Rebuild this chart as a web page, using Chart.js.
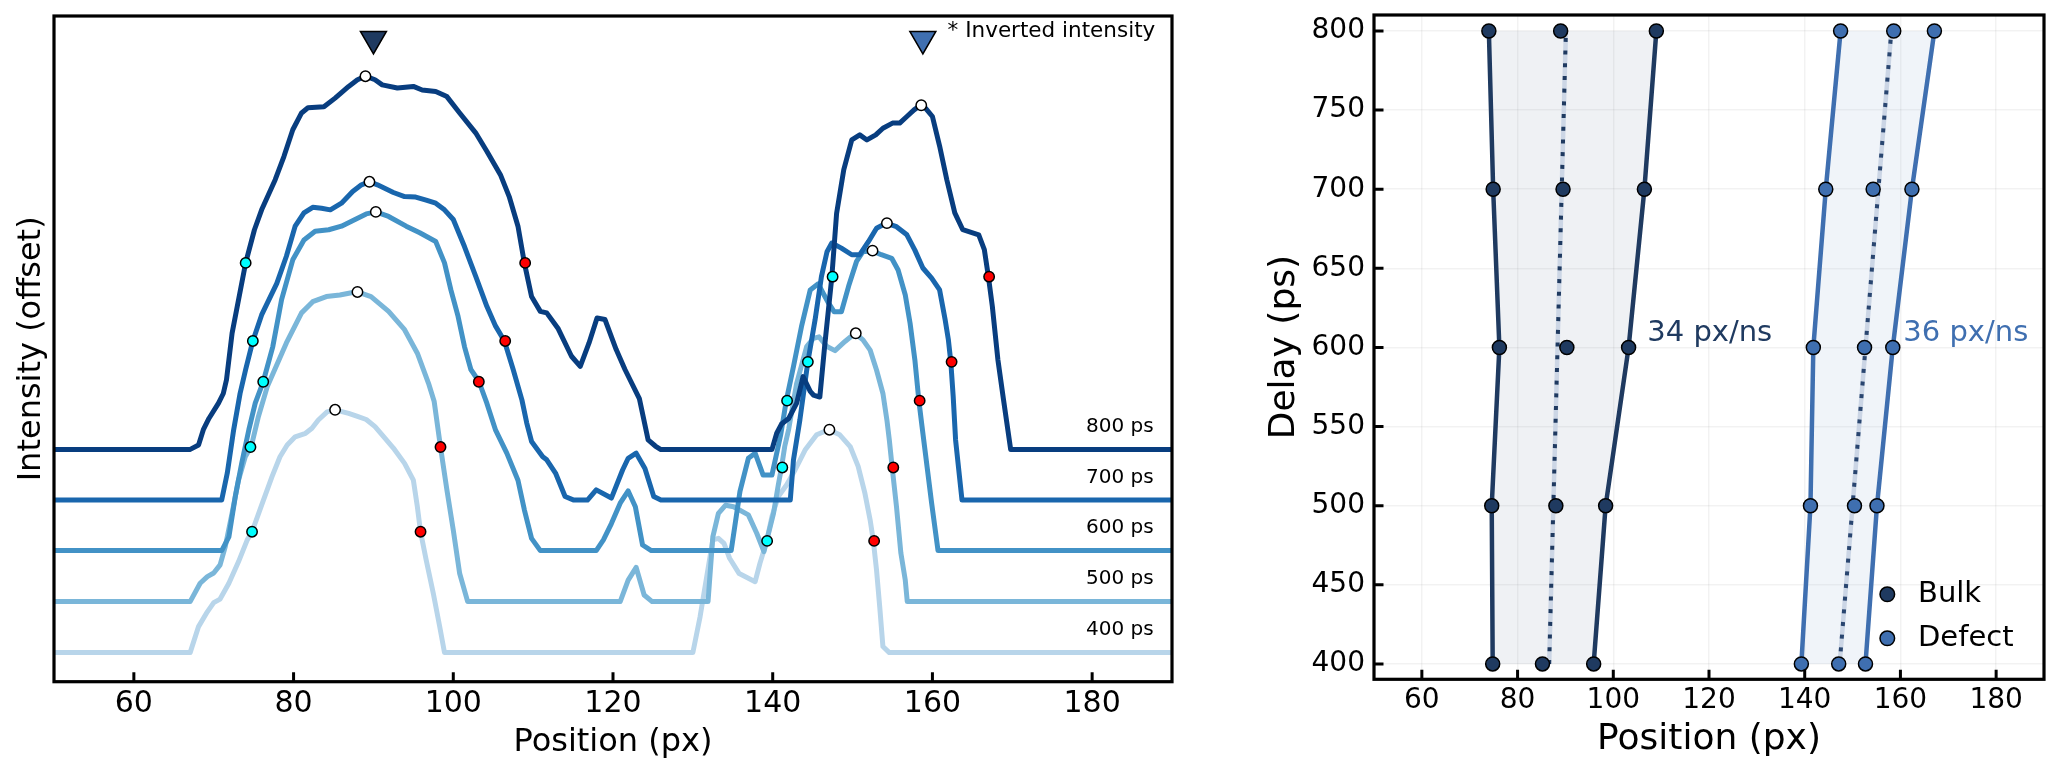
<!DOCTYPE html>
<html>
<head>
<meta charset="utf-8">
<script src="https://cdn.jsdelivr.net/npm/chart.js@4"></script>
<style>
  html, body { margin: 0; padding: 0; background: #fff; }
  #wrap { position: relative; width: 2058px; height: 774px; }
  canvas { position: absolute; top: 0; }
  #profiles { left: 0; }
  #fronts { left: 1250px; }
</style>
</head>
<body>
<div id="wrap">
  <canvas id="profiles" width="1180" height="774"></canvas>
  <canvas id="fronts" width="808" height="774"></canvas>
</div>
<script>
//////////////////////////////////////////////////
// Data

const delays = [400, 500, 600, 700, 800]
const delayLabels = ['400 ps', '500 ps', '600 ps', '700 ps', '800 ps']
const posTicks = [60, 80, 100, 120, 140, 160, 180]
const delayTicks = [400, 450, 500, 550, 600, 650, 700, 750, 800]

// line profiles, already offset (one step per delay)
const pos400 = [50, 67.05, 68.1, 69.2, 70.0, 70.8, 71.9, 73.1, 74.2, 74.8, 76.0, 77.3, 78.3, 79.2, 80.2, 81.5, 82.3, 83.1, 84.2, 85.2, 86.9, 88.0, 89.1, 90.2, 91.3, 92.5, 93.9, 95.0, 95.5, 95.9, 96.6, 97.5, 98.3, 98.9, 130.0, 130.9, 131.8, 132.5, 133.2, 133.9, 134.6, 135.8, 137.8, 138.4, 139.25, 139.9, 140.7, 141.75, 142.8, 144.05, 145.5, 147.0, 148.4, 149.7, 150.7, 151.55, 152.2, 152.6, 153.0, 153.4, 153.8, 154.6, 190]
const int400 = [0.57, 0.57, 1.08, 1.37, 1.55, 1.62, 1.93, 2.35, 2.78, 2.94, 3.46, 4.02, 4.41, 4.64, 4.8, 4.87, 4.97, 5.13, 5.29, 5.33, 5.26, 5.2, 5.14, 5.0, 4.8, 4.58, 4.28, 3.95, 3.43, 2.94, 2.39, 1.73, 1.08, 0.57, 0.57, 1.27, 2.12, 2.78, 2.81, 2.71, 2.42, 2.12, 1.96, 2.32, 2.76, 3.24, 3.63, 3.86, 4.15, 4.54, 4.84, 4.94, 4.84, 4.61, 4.22, 3.69, 3.17, 2.76, 2.19, 1.47, 0.69, 0.57, 0.57]

const pos500 = [50, 67.05, 68.3, 69.2, 70.0, 70.8, 71.45, 72.3, 73.1, 73.95, 74.7, 75.6, 76.7, 79.1, 81.0, 82.4, 84.1, 85.8, 87.4, 88.0, 89.7, 91.9, 93.9, 95.5, 96.9, 97.6, 98.4, 99.2, 100.0, 100.8, 101.8, 120.9, 121.9, 122.9, 123.9, 124.9, 131.9, 132.5, 133.2, 134.1, 135.1, 136.95, 138.0, 138.9, 140.1, 140.7, 141.1, 141.5, 142.0, 143.0, 144.25, 145.1, 145.8, 146.8, 147.8, 149.05, 150.3, 151.3, 152.2, 153.0, 153.8, 154.3, 154.6, 154.96, 155.5, 156.05, 156.6, 156.85, 190]
const int500 = [1.57, 1.57, 1.93, 2.06, 2.13, 2.29, 2.65, 3.3, 3.95, 4.41, 4.61, 5.2, 5.78, 6.64, 7.23, 7.45, 7.55, 7.58, 7.63, 7.64, 7.55, 7.26, 6.9, 6.44, 5.85, 5.5, 4.6, 3.76, 2.97, 2.12, 1.57, 1.57, 1.99, 2.24, 1.7, 1.57, 1.57, 2.84, 3.3, 3.46, 3.43, 3.27, 2.91, 2.55, 3.3, 3.86, 4.2, 4.61, 4.95, 5.85, 6.57, 6.73, 6.76, 6.57, 6.49, 6.67, 6.83, 6.7, 6.5, 6.11, 5.65, 5.13, 4.74, 4.2, 3.43, 2.52, 1.99, 1.57, 1.57]

const pos600 = [50, 71.0, 71.9, 72.7, 73.5, 74.4, 75.2, 76.2, 77.4, 78.5, 79.9, 81.3, 82.7, 84.4, 86.0, 87.7, 89.1, 90.3, 91.9, 94.1, 95.8, 97.8, 98.9, 99.7, 100.6, 101.4, 102.2, 103.2, 104.2, 105.3, 106.7, 108.1, 108.9, 109.8, 110.9, 117.9, 118.8, 119.8, 120.9, 121.9, 122.8, 123.7, 124.8, 134.8, 135.9, 136.95, 137.8, 138.8, 139.9, 140.5, 141.0, 141.7, 142.6, 143.6, 144.7, 145.7, 146.3, 147.0, 147.7, 148.6, 149.5, 150.5, 151.3, 152.4, 153.6, 154.9, 155.7, 156.6, 157.2, 157.8, 158.3, 158.7, 159.9, 160.7, 190]
const int600 = [2.57, 2.57, 2.84, 3.63, 4.28, 4.94, 5.46, 5.88, 6.57, 7.49, 8.27, 8.66, 8.83, 8.86, 8.93, 9.06, 9.17, 9.21, 9.12, 8.93, 8.8, 8.63, 8.21, 7.68, 7.16, 6.57, 6.12, 5.89, 5.46, 4.93, 4.48, 3.95, 3.37, 2.81, 2.57, 2.57, 2.78, 3.1, 3.5, 3.74, 3.43, 2.68, 2.57, 2.57, 3.73, 4.38, 4.48, 4.05, 4.05, 4.48, 4.84, 5.51, 6.18, 6.96, 7.68, 7.8, 7.62, 7.42, 7.25, 7.25, 7.75, 8.24, 8.43, 8.45, 8.37, 8.3, 8.07, 7.58, 7.03, 6.31, 5.51, 5.0, 3.5, 2.57, 2.57]

const pos700 = [50, 71.0, 71.7, 72.5, 73.3, 74.0, 74.9, 76.0, 77.9, 79.1, 80.2, 81.3, 82.4, 83.5, 84.6, 86.0, 87.4, 88.5, 89.5, 90.5, 92.5, 93.9, 95.3, 96.6, 97.8, 98.9, 100.0, 101.4, 102.8, 104.2, 105.3, 106.4, 107.5, 108.6, 109.2, 109.8, 111.2, 111.7, 112.8, 114.0, 115.1, 116.8, 117.9, 119.8, 121.2, 121.9, 122.9, 124.0, 125.1, 126.0, 142.2, 142.6, 143.4, 144.4, 145.3, 146.1, 146.8, 147.4, 148.6, 149.9, 150.9, 152.0, 153.0, 154.2, 155.5, 156.8, 157.8, 158.8, 159.9, 160.9, 161.6, 162.0, 162.3, 162.6, 162.9, 163.7, 190]
const int700 = [3.56, 3.56, 4.09, 4.94, 5.65, 6.12, 6.68, 7.19, 7.81, 8.34, 8.93, 9.19, 9.3, 9.28, 9.25, 9.38, 9.61, 9.74, 9.8, 9.74, 9.59, 9.51, 9.5, 9.44, 9.38, 9.25, 9.06, 8.53, 7.95, 7.36, 6.97, 6.68, 6.12, 5.52, 5.07, 4.71, 4.41, 4.35, 4.09, 3.63, 3.56, 3.56, 3.76, 3.6, 4.15, 4.38, 4.48, 4.18, 3.63, 3.56, 3.56, 4.35, 5.13, 6.27, 7.09, 7.94, 8.43, 8.6, 8.5, 8.37, 8.37, 8.63, 8.89, 8.99, 8.92, 8.76, 8.46, 8.11, 7.91, 7.68, 7.09, 6.7, 6.27, 5.59, 4.74, 3.56, 3.56]

const pos800 = [50, 67.0, 68.1, 68.7, 69.4, 70.6, 71.2, 71.6, 72.3, 74.0, 75.1, 76.0, 77.7, 78.8, 79.9, 81.0, 81.8, 83.8, 85.2, 86.9, 88.0, 89.0, 90.2, 91.1, 93.0, 95.0, 96.1, 97.8, 99.2, 100.8, 102.8, 104.2, 105.9, 107.0, 108.1, 108.9, 109.8, 110.9, 111.7, 113.1, 114.8, 115.9, 117.0, 118.0, 119.0, 120.4, 121.5, 123.3, 124.4, 125.3, 126.0, 139.9, 140.5, 141.1, 142.0, 143.0, 143.8, 144.7, 145.1, 145.9, 146.5, 147.4, 148.0, 148.9, 149.9, 150.9, 151.8, 152.9, 153.8, 155.0, 155.9, 156.8, 157.7, 158.5, 159.1, 160.0, 160.9, 161.8, 162.8, 163.8, 165.8, 166.5, 167.0, 167.5, 168.2, 168.9, 169.8, 190]
const int800 = [4.55, 4.55, 4.64, 4.94, 5.16, 5.46, 5.65, 5.92, 6.83, 8.21, 8.86, 9.25, 9.84, 10.3, 10.82, 11.15, 11.25, 11.27, 11.44, 11.67, 11.8, 11.87, 11.8, 11.7, 11.64, 11.67, 11.6, 11.57, 11.47, 11.15, 10.76, 10.4, 9.94, 9.51, 8.93, 8.21, 7.55, 7.26, 7.23, 6.93, 6.38, 6.18, 6.64, 7.13, 7.1, 6.51, 6.12, 5.55, 4.74, 4.62, 4.55, 4.55, 4.87, 5.05, 5.16, 5.46, 5.98, 5.69, 5.62, 5.58, 6.57, 7.93, 9.18, 10.04, 10.62, 10.72, 10.62, 10.72, 10.85, 10.95, 10.95, 11.08, 11.21, 11.3, 11.25, 11.08, 10.5, 9.84, 9.19, 8.86, 8.76, 8.47, 7.95, 7.36, 6.31, 5.53, 4.55, 4.55]

// front positions (px) per delay
const bulkLeft = [74.8, 74.6, 76.2, 74.9, 74.0]
const bulkPeak = [85.2, 88.0, 90.3, 89.5, 89.0]
const bulkRight = [95.9, 98.4, 103.2, 106.5, 109.0]
const defectLeft = [139.3, 141.2, 141.8, 144.4, 147.5]
const defectPeak = [147.1, 150.4, 152.5, 154.3, 158.6]
const defectRight = [152.7, 155.1, 158.4, 162.4, 167.1]

// profile intensity at those markers
const bulkHalfInt = [2.94, 4.6, 5.88, 6.68, 8.21]
const bulkPeakInt = [5.33, 7.64, 9.21, 9.8, 11.87]
const defectHalfInt = [2.76, 4.2, 5.51, 6.27, 7.94]
const defectPeakInt = [4.94, 6.83, 8.45, 8.99, 11.3]

// dotted linear fits of the peak position
const fitDelays = [400, 800]
const bulkFit = [86.6, 90.1]
const defectFit = [147.3, 158.1]

// inverted-intensity markers
const invertedPos = [90.0, 158.8]
const invertedLevel = [12.6, 12.6]

const speedLabels = ['34 px/ns', '36 px/ns']

//////////////////////////////////////////////////
// Chart settings

Chart.defaults.font.family = "'DejaVu Sans', sans-serif"
Chart.defaults.color = '#000'
Chart.defaults.animation = false
Chart.defaults.plugins.legend.display = false
Chart.defaults.plugins.tooltip.enabled = false

const bulkColor = '#1f3a60'
const defectColor = '#3f6fb0'
const profileColors = ['#b8d5ea', '#7ab6d9', '#4292c6', '#1966ad', '#083d7f']

const pts = (xs, ys) => xs.map((x, i) => ({ x, y: ys[i] }))

const zeroPad = (s) => {
  s.paddingLeft = 0
  s.paddingRight = 0
  s.paddingTop = 0
  s.paddingBottom = 0
}

const curve = (xs, ys, color) => ({
  data: pts(xs, ys),
  showLine: true,
  borderColor: color,
  borderWidth: 5,
  borderJoinStyle: 'round',
  pointRadius: 0,
  pointHoverRadius: 0
})

const dots = (xs, ys, color, radius) => ({
  data: pts(xs, ys),
  showLine: false,
  pointRadius: radius,
  pointHoverRadius: radius,
  pointBackgroundColor: color,
  pointBorderColor: '#000',
  pointBorderWidth: 1.5
})

// box around the plot area plus inward tick marks
const frame = (withY) => ({
  id: 'frame',
  afterDatasetsDraw(chart) {
    const { ctx, chartArea: a, scales: { x, y } } = chart
    ctx.save()
    ctx.strokeStyle = '#000'
    ctx.lineWidth = 3.2
    ctx.strokeRect(a.left, a.top, a.right - a.left, a.bottom - a.top)
    ctx.lineWidth = 3
    ctx.beginPath()
    for (const t of x.ticks) {
      const px = x.getPixelForValue(t.value)
      ctx.moveTo(px, a.bottom)
      ctx.lineTo(px, a.bottom - 9.5)
    }
    if (withY) {
      for (const t of y.ticks) {
        const py = y.getPixelForValue(t.value)
        ctx.moveTo(a.left, py)
        ctx.lineTo(a.left + 9.5, py)
      }
    }
    ctx.stroke()
    ctx.restore()
  }
})

//////////////////////////////////////////////////
// Left: offset line profiles

const profileSeries = [[pos800, int800], [pos700, int700], [pos600, int600], [pos500, int500], [pos400, int400]]

const profileText = {
  id: 'profileText',
  afterDatasetsDraw(chart) {
    const { ctx, scales: { x, y } } = chart
    ctx.save()
    ctx.fillStyle = '#000'
    ctx.textBaseline = 'middle'
    ctx.textAlign = 'right'
    ctx.font = "20px 'DejaVu Sans'"
    const baselines = [int400[0], int500[0], int600[0], int700[0], int800[0]]
    delayLabels.forEach((label, i) => {
      ctx.fillText(label, x.getPixelForValue(187.7), y.getPixelForValue(baselines[i] + 0.44))
    })
    ctx.textAlign = 'left'
    ctx.font = "21.5px 'DejaVu Sans'"
    ctx.fillText('* Inverted intensity', x.getPixelForValue(161.9), y.getPixelForValue(12.75))
    ctx.restore()
  }
}

new Chart(document.getElementById('profiles'), {
  type: 'scatter',
  plugins: [frame(false), profileText],
  data: {
    datasets: [
      {
        data: pts(invertedPos, invertedLevel),
        pointStyle: 'triangle',
        rotation: 180,
        pointRadius: 15,
        pointHoverRadius: 15,
        pointBackgroundColor: [bulkColor, defectColor],
        pointBorderColor: '#000',
        pointBorderWidth: 1.5
      },
      dots(bulkPeak, bulkPeakInt, '#fff', 5.2),
      dots(defectPeak, defectPeakInt, '#fff', 5.2),
      dots(bulkRight, bulkHalfInt, '#ff0000', 5.2),
      dots(defectRight, defectHalfInt, '#ff0000', 5.2),
      dots(bulkLeft, bulkHalfInt, '#00ffff', 5.2),
      dots(defectLeft, defectHalfInt, '#00ffff', 5.2),
      ...profileSeries.map(([xs, ys], i) => curve(xs, ys, profileColors[4 - i]))
    ]
  },
  options: {
    responsive: false,
    layout: { autoPadding: false, padding: { top: 16, right: 8, left: 0, bottom: 0 } },
    scales: {
      x: {
        type: 'linear',
        min: 50,
        max: 190,
        afterBuildTicks: (s) => { s.ticks = posTicks.map((v) => ({ value: v })) },
        afterFit: (s) => { s.height = 92.3; zeroPad(s) },
        grid: { display: false, drawTicks: false },
        border: { display: false },
        ticks: { font: { size: 30 }, padding: 5, maxRotation: 0, autoSkip: false },
        title: { display: true, text: 'Position (px)', font: { size: 32 }, padding: { top: 0, bottom: 12.6 } }
      },
      y: {
        type: 'linear',
        min: 0,
        max: 13.05,
        afterFit: (s) => { s.width = 54; zeroPad(s) },
        grid: { display: false, drawTicks: false },
        border: { display: false },
        ticks: { display: false },
        title: { display: true, text: 'Intensity (offset)', font: { size: 32 }, padding: { top: 12.3, bottom: 0 } }
      }
    }
  }
})

//////////////////////////////////////////////////
// Right: front positions against delay

const frontText = {
  id: 'frontText',
  afterDatasetsDraw(chart) {
    const { ctx, chartArea: a, scales: { x, y } } = chart
    ctx.save()
    ctx.textBaseline = 'middle'
    ctx.textAlign = 'left'
    ctx.font = "29px 'DejaVu Sans'"
    ctx.fillStyle = bulkColor
    ctx.fillText(speedLabels[0], x.getPixelForValue(107.1), y.getPixelForValue(609))
    ctx.fillStyle = defectColor
    ctx.fillText(speedLabels[1], x.getPixelForValue(160.6), y.getPixelForValue(609))

    // legend
    const items = [['Bulk', bulkColor], ['Defect', defectColor]]
    items.forEach(([label, color], i) => {
      const mx = a.right - 156.7
      const my = a.bottom - 85 + i * 44
      ctx.beginPath()
      ctx.arc(mx, my, 7.3, 0, Math.PI * 2)
      ctx.fillStyle = color
      ctx.fill()
      ctx.lineWidth = 1.5
      ctx.strokeStyle = '#000'
      ctx.stroke()
      ctx.fillStyle = '#000'
      ctx.fillText(label, mx + 30.7, my)
    })
    ctx.restore()
  }
}

const edge = (xs, color) => ({
  data: pts(xs, delays),
  showLine: true,
  borderColor: color,
  borderWidth: 4.5,
  pointRadius: 7,
  pointHoverRadius: 7,
  pointBackgroundColor: color,
  pointBorderColor: '#000',
  pointBorderWidth: 1.5
})

const band = (left, right, color) => ({
  data: [...pts(left, delays), ...pts(right, delays).reverse()],
  showLine: true,
  fill: 'shape',
  backgroundColor: color,
  borderColor: 'rgba(0,0,0,0)',
  borderWidth: 0,
  pointRadius: 0,
  pointHoverRadius: 0
})

const fitLine = (xs, color, width, dash) => ({
  data: pts(xs, fitDelays),
  showLine: true,
  borderColor: color,
  borderWidth: width,
  borderDash: dash,
  borderCapStyle: 'butt',
  pointRadius: 0,
  pointHoverRadius: 0
})

new Chart(document.getElementById('fronts'), {
  type: 'scatter',
  plugins: [frame(true), frontText],
  data: {
    datasets: [
      dots(bulkPeak, delays, bulkColor, 7),
      edge(bulkLeft, bulkColor),
      edge(bulkRight, bulkColor),
      dots(defectPeak, delays, defectColor, 7),
      edge(defectLeft, defectColor),
      edge(defectRight, defectColor),
      fitLine(bulkFit, bulkColor, 4, [4, 8.7]),
      fitLine(defectFit, '#2a4670', 4, [4, 8.7]),
      fitLine(bulkFit, 'rgba(200,211,227,0.9)', 4.5, []),
      fitLine(defectFit, 'rgba(200,211,227,0.9)', 4.5, []),
      band(bulkLeft, bulkRight, 'rgba(31,58,96,0.07)'),
      band(defectLeft, defectRight, 'rgba(63,111,176,0.08)')
    ]
  },
  options: {
    responsive: false,
    layout: { autoPadding: false, padding: { top: 15, right: 14, left: 0, bottom: 0 } },
    scales: {
      x: {
        type: 'linear',
        min: 50,
        max: 190,
        afterBuildTicks: (s) => { s.ticks = posTicks.map((v) => ({ value: v })) },
        afterFit: (s) => { s.height = 94.7; zeroPad(s) },
        grid: { display: true, color: 'rgba(0,0,0,0.05)', lineWidth: 1.5, drawTicks: false },
        border: { display: false },
        ticks: { font: { size: 28 }, padding: 5, maxRotation: 0, autoSkip: false },
        title: { display: true, text: 'Position (px)', font: { size: 36 }, padding: { top: 0, bottom: 13.1 } }
      },
      y: {
        type: 'linear',
        min: 390.3,
        max: 810.1,
        afterBuildTicks: (s) => { s.ticks = delayTicks.map((v) => ({ value: v })) },
        afterFit: (s) => { s.width = 124; zeroPad(s) },
        grid: { display: true, color: 'rgba(0,0,0,0.05)', lineWidth: 1.5, drawTicks: false },
        border: { display: false },
        ticks: { font: { size: 28 }, padding: 9, autoSkip: false },
        title: { display: true, text: 'Delay (ps)', font: { size: 36 }, padding: { top: 12.7, bottom: 0 } }
      }
    }
  }
})
</script>
</body>
</html>
